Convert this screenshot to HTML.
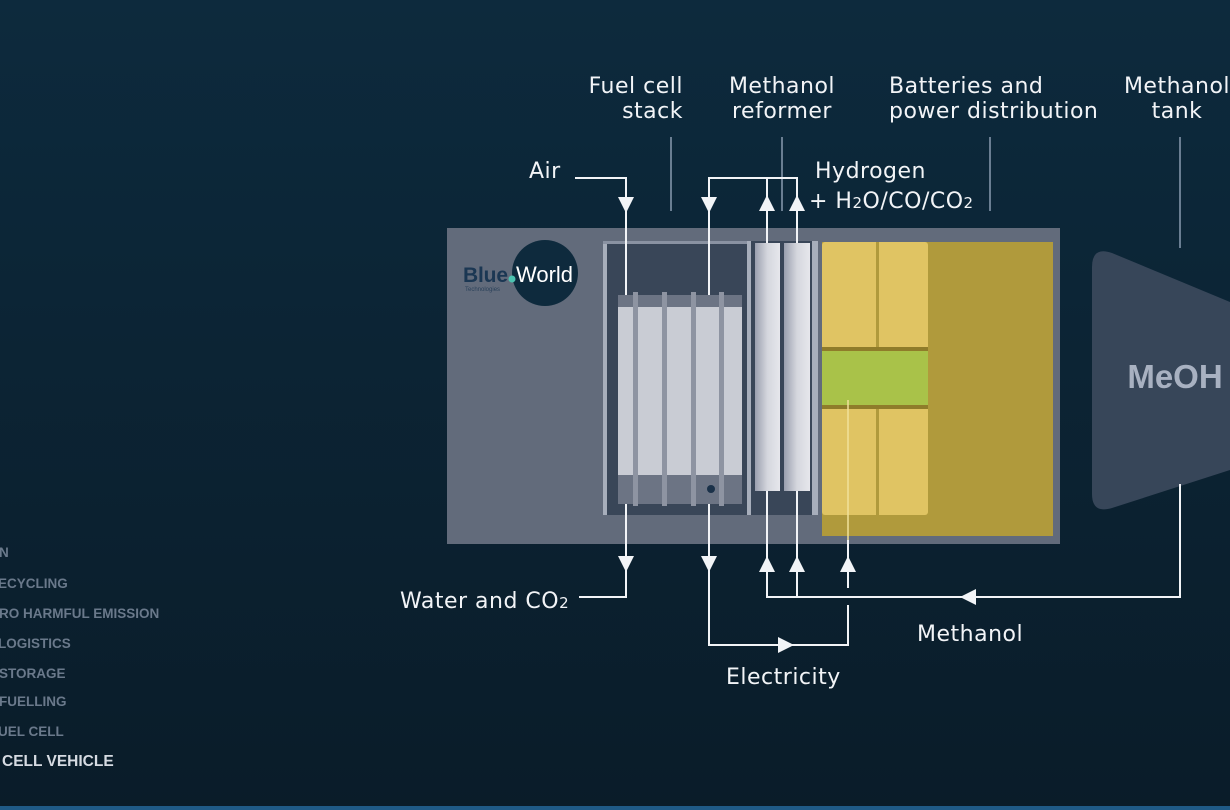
<!DOCTYPE html>
<html><head><meta charset="utf-8"><style>
html,body{margin:0;padding:0;width:1230px;height:810px;overflow:hidden;background:#0b2334}
svg{display:block}
</style></head><body>
<svg width="1230" height="810" viewBox="0 0 1230 810" xmlns="http://www.w3.org/2000/svg" font-family="'Liberation Sans', sans-serif">
<defs>
<linearGradient id="bg" x1="0" y1="0" x2="0" y2="1"><stop offset="0" stop-color="#0d2a3d"/><stop offset="1" stop-color="#0a1c29"/></linearGradient>
<linearGradient id="tube" x1="0" y1="0" x2="1" y2="0"><stop offset="0" stop-color="#9a9fae"/><stop offset="0.5" stop-color="#d5d7de"/><stop offset="1" stop-color="#e6e7ec"/></linearGradient>
</defs>
<rect width="1230" height="810" fill="url(#bg)"/>
<rect y="806" width="1230" height="4" fill="#1f5a86"/>

<!-- left menu -->
<g font-weight="bold" font-size="13.5" fill="#6a798b">
<text x="-1" y="557">N</text>
<text x="-2" y="588">ECYCLING</text>
<text x="-1" y="618">RO HARMFUL EMISSION</text>
<text x="-2" y="648">LOGISTICS</text>
<text x="-1" y="678">STORAGE</text>
<text x="-1" y="706">FUELLING</text>
<text x="-2" y="736">UEL CELL</text>
<text x="2" y="766" font-size="15.5" fill="#d6dbe2">CELL VEHICLE</text>
</g>

<!-- main box -->
<rect x="447" y="228" width="613" height="316" fill="#626b7b"/>
<!-- logo -->
<circle cx="545" cy="273" r="33" fill="#0e2a3d"/>
<text x="463" y="282" font-size="21" font-weight="bold" fill="#1b3753" textLength="45">Blue</text>
<circle cx="512" cy="279" r="3.5" fill="#4cc3b0"/>
<text x="516" y="282" font-size="22" fill="#ffffff" textLength="57">World</text>
<text x="465" y="291" font-size="6" fill="#2a415a">Technologies</text>

<!-- fuel cell frame -->
<rect x="603" y="241" width="144" height="274" fill="#394658"/>
<rect x="603" y="241" width="4" height="274" fill="#a7aebb"/>
<rect x="603" y="241" width="144" height="3" fill="#8a92a2"/>
<rect x="618" y="295" width="124" height="209" fill="#6c7484"/>
<rect x="618" y="307" width="124" height="168" fill="#c9ccd4"/>
<g fill="#8e94a2">
<rect x="633" y="292" width="5" height="214"/>
<rect x="662" y="292" width="5" height="214"/>
<rect x="691" y="292" width="5" height="214"/>
<rect x="719" y="292" width="5" height="214"/>
</g>
<circle cx="711" cy="489" r="4" fill="#1a3149"/>

<!-- reformer -->
<rect x="747" y="241" width="4" height="274" fill="#a7aebb"/>
<rect x="751" y="241" width="61" height="274" fill="#394658"/>
<rect x="755" y="243" width="25" height="248" fill="url(#tube)"/>
<rect x="784" y="243" width="26" height="248" fill="url(#tube)"/>
<rect x="812" y="241" width="6" height="274" fill="#a7aebb"/>

<!-- batteries -->
<rect x="822" y="242" width="231" height="294" fill="#b09a3c"/>
<rect x="822" y="242" width="106" height="273" rx="3" fill="#e0c463"/>
<rect x="876" y="242" width="3" height="273" fill="#b09a3c"/>
<rect x="822" y="347" width="106" height="4" fill="#8f7c2a"/>
<rect x="822" y="351" width="106" height="54" fill="#a9c249"/>
<rect x="822" y="405" width="106" height="4" fill="#8f7c2a"/>
<line x1="848" y1="400" x2="848" y2="544" stroke="#f1e29a" stroke-width="1.5"/>

<!-- MeOH tank -->
<path d="M1112 253 L1230 302 L1230 470 L1112 508 Q1092 514 1092 494 L1092 267 Q1092 246 1112 253 Z" fill="#374659"/>
<text x="1175" y="388" font-size="33" font-weight="bold" fill="#a8b1c1" text-anchor="middle">MeOH</text>

<!-- label leader lines -->
<g stroke="#8a9bb0" stroke-width="1.5">
<line x1="671" y1="137" x2="671" y2="211"/>
<line x1="782" y1="137" x2="782" y2="211"/>
<line x1="990" y1="137" x2="990" y2="211"/>
<line x1="1180" y1="137" x2="1180" y2="248"/>
</g>

<!-- white flow lines -->
<g stroke="#f2f4f7" stroke-width="2" fill="none">
<polyline points="575,178 626,178 626,295"/>
<polyline points="709,295 709,178 797,178 797,243"/>
<line x1="767" y1="178" x2="767" y2="243"/>
<polyline points="626,504 626,597 579,597"/>
<polyline points="709,504 709,645 848,645 848,605"/>
<line x1="848" y1="540" x2="848" y2="588"/>
<polyline points="767,491 767,597 1180,597 1180,484"/>
<line x1="797" y1="491" x2="797" y2="597"/>
</g>
<g fill="#f2f4f7">
<polygon points="618,197 634,197 626,213"/>
<polygon points="701,197 717,197 709,213"/>
<polygon points="759,211 775,211 767,195"/>
<polygon points="789,211 805,211 797,195"/>
<polygon points="618,556 634,556 626,572"/>
<polygon points="701,556 717,556 709,572"/>
<polygon points="759,572 775,572 767,556"/>
<polygon points="789,572 805,572 797,556"/>
<polygon points="840,572 856,572 848,556"/>
<polygon points="778,637 778,653 794,645"/>
<polygon points="976,589 976,605 960,597"/>
</g>

<!-- labels -->
<g font-size="22" fill="#f2f4f7" font-family="'DejaVu Sans', sans-serif" letter-spacing="0.5">
<text x="683" y="93" text-anchor="end">Fuel cell</text>
<text x="683" y="118" text-anchor="end">stack</text>
<text x="782" y="93" text-anchor="middle">Methanol</text>
<text x="782" y="118" text-anchor="middle">reformer</text>
<text x="889" y="93">Batteries and</text>
<text x="889" y="118">power distribution</text>
<text x="1177" y="93" text-anchor="middle">Methanol</text>
<text x="1177" y="118" text-anchor="middle">tank</text>
<text x="529" y="178">Air</text>
<text x="815" y="178">Hydrogen</text>
<text x="809" y="208">+ H<tspan font-size="15">2</tspan>O/CO/CO<tspan font-size="15">2</tspan></text>
<text x="400" y="608">Water and CO<tspan font-size="15">2</tspan></text>
<text x="917" y="641">Methanol</text>
<text x="726" y="684">Electricity</text>
</g>
</svg>
</body></html>
